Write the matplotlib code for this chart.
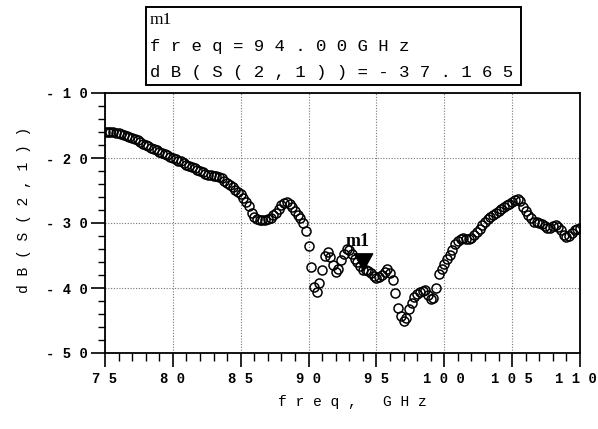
import numpy as np
import matplotlib
matplotlib.use("Agg")
import matplotlib.pyplot as plt
from matplotlib.ticker import FixedLocator, FixedFormatter, MultipleLocator
from matplotlib.patches import Rectangle
from matplotlib.transforms import ScaledTranslation

# ---------------- data ----------------
freq_start, freq_stop, freq_step = 75.0, 110.0, 0.2
freq = np.round(np.arange(freq_start, freq_stop + freq_step / 2, freq_step), 3)

s21_db = [
    -16.0, -16.0, -16.0, -16.0, -16.1,
    -16.2, -16.3, -16.4, -16.6, -16.7,
    -16.9, -17.1, -17.3, -17.5, -17.8,
    -18.0, -18.2, -18.4, -18.6, -18.8,
    -19.0, -19.2, -19.4, -19.6, -19.8,
    -20.0, -20.2, -20.4, -20.5, -20.8,
    -21.0, -21.2, -21.4, -21.6, -21.8,
    -22.0, -22.2, -22.4, -22.6, -22.6,
    -22.7, -22.8, -22.9, -23.1, -23.5,
    -23.8, -24.2, -24.5, -24.9, -25.2,
    -25.6, -26.1, -26.7, -27.4, -28.4,
    -29.0, -29.4, -29.5, -29.6, -29.5,
    -29.4, -29.2, -28.8, -28.4, -27.8,
    -27.3, -26.9, -26.8, -27.0, -27.5,
    -28.1, -28.7, -29.2, -30.0, -31.2,
    -33.6, -36.8, -39.8, -40.6, -39.3,
    -37.2, -35.0, -34.5, -35.2, -36.5,
    -37.5, -37.0, -35.7, -34.7, -34.0,
    -34.2, -34.8, -35.5, -36.0, -36.6,
    -37.165, -37.2, -37.4, -37.7, -38.1,
    -38.5, -38.3, -38.0, -37.5, -37.1,
    -37.7, -38.8, -40.8, -43.1, -44.3,
    -45.0, -44.6, -43.3, -42.3, -41.4,
    -40.9, -40.6, -40.4, -40.3, -41.1,
    -41.7, -41.6, -40.0, -37.9, -37.0,
    -36.3, -35.6, -34.9, -34.2, -33.3,
    -32.8, -32.4, -32.3, -32.4, -32.5,
    -32.3, -31.9, -31.4, -30.9, -30.3,
    -29.8, -29.4, -29.0, -28.7, -28.4,
    -28.1, -27.9, -27.6, -27.3, -27.0,
    -26.8, -26.5, -26.3, -26.6, -27.5,
    -28.2, -28.8, -29.3, -29.8, -29.9,
    -30.0, -30.1, -30.4, -30.7, -30.7,
    -30.4, -30.3, -30.6, -31.1, -31.8,
    -32.2, -32.0, -31.6, -31.1, -30.9,
    -30.8,
]

marker_freq = 94.00
marker_db = -37.165
marker_name = "m1"

x_ticks = [75, 80, 85, 90, 95, 100, 105, 110]
x_tick_labels = ["7 5", "8 0", "8 5", "9 0", "9 5", "1 0 0", "1 0 5", "1 1 0"]
y_ticks = [-10, -20, -30, -40, -50]
y_tick_labels = ["- 1 0", "- 2 0", "- 3 0", "- 4 0", "- 5 0"]

x_label = "f r e q ,   G H z"
y_label = "d B ( S ( 2 , 1 ) )"
box_lines = ["m1", "f r e q = 9 4 . 0 0 G H z", "d B ( S ( 2 , 1 ) ) = - 3 7 . 1 6 5"]

# ---------------- figure ----------------
W, H = 598, 429
fig = plt.figure(figsize=(W / 100, H / 100), dpi=100)
ax = fig.add_axes([105 / W, (H - 353) / H, 475 / W, 260 / H])

mono = "Liberation Mono"

ax.plot(freq, s21_db, linestyle="none", marker="o", markersize=6.5,
        markerfacecolor="none", markeredgecolor="black", markeredgewidth=1.1)

# marker triangle (tip at the point)
tri = [(-1.1, 2.0), (1.1, 2.0), (0.0, 0.0), (-1.1, 2.0)]
ax.plot([marker_freq], [marker_db], linestyle="none", marker=tri,
        markersize=24, color="black", zorder=5)
ax.annotate(marker_name, xy=(marker_freq, marker_db), xytext=(-4, 14),
            textcoords="offset points", ha="center", va="bottom",
            fontsize=13, family="Liberation Serif", fontweight="bold", zorder=6)

ax.set_xlim(75, 110)
ax.set_ylim(-50, -10)
ax.xaxis.set_major_locator(FixedLocator(x_ticks))
ax.xaxis.set_major_formatter(FixedFormatter(x_tick_labels))
ax.xaxis.set_minor_locator(MultipleLocator(1))
ax.yaxis.set_major_locator(FixedLocator(y_ticks))
ax.yaxis.set_major_formatter(FixedFormatter(y_tick_labels))
ax.yaxis.set_minor_locator(MultipleLocator(2))

ax.tick_params(axis="x", which="major", direction="out", length=10, width=1.2, pad=4)
ax.tick_params(axis="x", which="minor", direction="out", length=5.5, width=1.0)
ax.tick_params(axis="y", which="major", direction="out", length=10, width=1.2, pad=2)
ax.tick_params(axis="y", which="minor", direction="out", length=5, width=1.0)
for lab in ax.get_xticklabels() + ax.get_yticklabels():
    lab.set_fontfamily(mono)
    lab.set_fontweight("bold")
    lab.set_fontsize(10)

# nudge the last x label left so it stays inside the figure (as in the reference)
last = ax.xaxis.get_major_ticks()[-1].label1
last.set_transform(last.get_transform() + ScaledTranslation(-4.5 / 100, 0, fig.dpi_scale_trans))

ax.grid(True, which="major", linestyle=(0, (1, 1.5)), color="#777777", linewidth=0.8)
for sp in ax.spines.values():
    sp.set_linewidth(1.3)

ax.set_xlabel(x_label, fontfamily=mono, fontsize=10.5)
ax.xaxis.set_label_coords(0.52, -0.16)
ax.set_ylabel(y_label, fontfamily=mono, fontsize=10.5)
ax.yaxis.set_label_coords(-0.155, 0.55)

# marker readout box
box = Rectangle((146 / W, (H - 85) / H), (521 - 146) / W, 78 / H,
                transform=fig.transFigure, fill=False, edgecolor="black",
                linewidth=1.4)
fig.patches.append(box)
line_y = [20, 46, 72]
for txt, yy in zip(box_lines, line_y):
    fam = "Liberation Serif" if txt == "m1" else mono
    fig.text(150 / W, (H - yy) / H, txt, fontfamily=fam, fontsize=12.5,
             ha="left", va="center")

fig.savefig("out.png", dpi=100)
